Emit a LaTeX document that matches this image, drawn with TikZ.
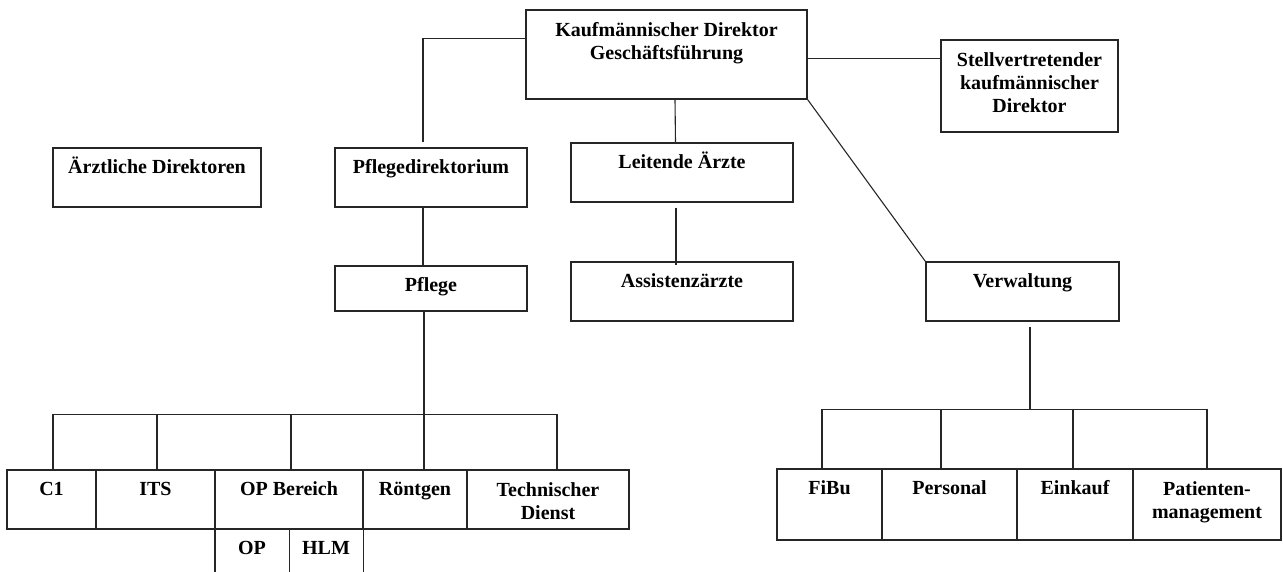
\documentclass[tikz,border=0pt]{standalone}
\usepackage{fontspec}
\setmainfont{Liberation Serif}
\begin{document}
\begin{tikzpicture}[x=1pt,y=-1pt,
  orgbox/.style={draw=black!85, line width=1.4pt, inner sep=0pt, rectangle},
  orgtext/.style={anchor=north, inner sep=0pt, align=center,
    font=\bfseries\fontsize{20}{23}\selectfont,
    execute at begin node=\strut},
  multiline/.style={yshift=-3.5pt},
  link/.style={draw=black!85, line width=1.1pt}]
\useasboundingbox (0,0) rectangle (1283,572);
\newcommand\orgnode[7][]{%
  \node[orgbox, minimum width={#5-#3}, minimum height={#6-#4}] (#2) at ({(#3+#5)/2},{(#4+#6)/2}) {};
  \node[orgtext,#1] (#2-t) at ([yshift=-9.5pt]#2.north) {#7};}
% upper part
\orgnode[multiline]{kd}{526}{10}{807}{99}{Kaufmännischer Direktor\\Geschäftsführung}
\orgnode[multiline]{sv}{941}{40}{1118}{132}{Stellvertretender\\kaufmännischer\\Direktor}
\orgnode{ad}{53}{148}{261}{207}{Ärztliche Direktoren}
\orgnode{pd}{335}{148}{527}{207}{Pflegedirektorium}
\orgnode{la}{571}{143}{793}{202}{Leitende Ärzte}
\orgnode{az}{571}{262}{793}{321}{Assistenzärzte}
\orgnode{pf}{335}{266}{527}{311}{Pflege}
\orgnode{vw}{926}{262}{1119}{321}{Verwaltung}
% lower left row
\orgnode{c1}{7}{470}{96}{529}{C1}
\orgnode{its}{96}{470}{215}{529}{ITS}
\orgnode{opb}{215}{470}{363}{529}{OP Bereich}
\orgnode{rt}{363}{470}{467}{529}{Röntgen}
\orgnode[multiline]{td}{467}{470}{629}{529}{Technischer\\Dienst}
% OP / HLM (open at the bottom)
\node[inner sep=0pt, minimum width=74, minimum height=43] (op) at (252,550.5) {};
\node[orgtext] (op-t) at ([yshift=-9.5pt]op.north) {OP};
\node[inner sep=0pt, minimum width=74, minimum height=43] (hlm) at (326,550.5) {};
\node[orgtext] (hlm-t) at ([yshift=-9.5pt]hlm.north) {HLM};
\draw[link, line width=1.4pt] (op.north west) -- (op.south west);
\draw[link, line width=1.4pt] (op.north east) -- (op.south east);
\draw[link, line width=1.4pt] (hlm.north east) -- (hlm.south east);
% lower right row
\orgnode{fibu}{777}{469}{882}{540}{FiBu}
\orgnode{pers}{882}{469}{1017}{540}{Personal}
\orgnode{eink}{1017}{469}{1133}{540}{Einkauf}
\orgnode[multiline]{pat}{1133}{469}{1281}{540}{Patienten-\\management}
% connectors
\draw[link] ([yshift=-29pt]kd.north west) -| ([xshift=-8pt,yshift=5pt]pd.north);
\draw[link] ([xshift=8.5pt]kd.south) -- ([xshift=-6.5pt]la.north);
\draw[link] ([yshift=-49pt]kd.north east) -- ([yshift=-19pt]sv.north west);
\draw[link] (kd.south east) -- (vw.north west);
\draw[link] ([xshift=-8pt]pd.south) -- ([xshift=-8pt]pf.north);
\draw[link] ([xshift=-6pt,yshift=-5pt]la.south) -- ([xshift=-6pt,yshift=-4pt]az.north);
% Pflege tree
\draw[link] ([xshift=-7pt]pf.south) -- ([xshift=9pt]rt.north);
\draw[link] ([xshift=1.5pt]c1.north) -- ++(0,-55) -| ([xshift=9pt]td.north);
\draw[link] ([xshift=1.5pt]its.north) -- ++(0,-55);
\draw[link] ([xshift=2pt]opb.north) -- ++(0,-55);
% Verwaltung tree
\coordinate (vbar) at (1030,410);
\draw[link] ([xshift=7.5pt,yshift=-5pt]vw.south) -- (vbar);
\draw[link] ([xshift=-7.5pt]fibu.north) -- ++(0,-59) -| (pat.north);
\draw[link] ([xshift=-8.5pt]pers.north) -- ++(0,-59);
\draw[link] ([xshift=-2pt]eink.north) -- ++(0,-59);
\end{tikzpicture}
\end{document}
